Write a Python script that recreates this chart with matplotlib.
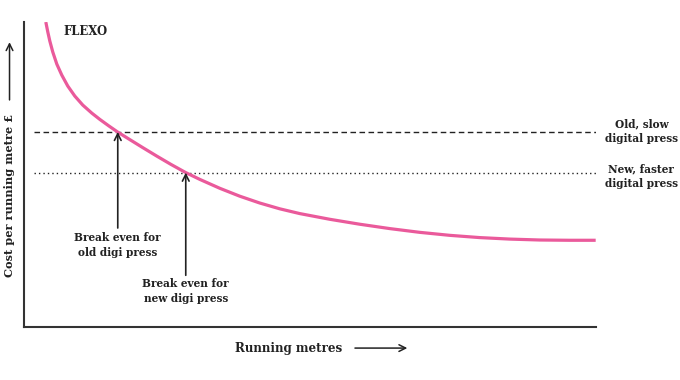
import matplotlib
matplotlib.use('Agg')
import matplotlib.pyplot as plt

# flexo cost curve (arbitrary units 0-100)
run_metres = [3.85, 4.20, 4.55, 5.07, 5.77, 6.64, 7.69, 8.92, 10.31, 11.89, 13.29, 14.86,
              16.43, 18.53, 20.80, 23.25, 25.70, 28.32, 30.77, 34.27, 37.76, 41.26, 44.76,
              48.25, 53.50, 58.74, 63.99, 69.23, 74.48, 79.72, 84.97, 90.21, 95.45, 100.0]
flexo_cost = [100.0, 96.72, 93.77, 90.16, 86.23, 82.62, 79.02, 75.74, 72.79, 70.16, 68.10, 65.97,
              63.93, 61.48, 58.85, 56.07, 53.38, 50.66, 48.44, 45.52, 42.93, 40.69, 38.79,
              37.23, 35.36, 33.74, 32.31, 31.08, 30.10, 29.36, 28.87, 28.57, 28.48, 28.48]

old_digi_cost = 64.0
new_digi_cost = 50.66
break_even_old = 16.43
break_even_new = 28.32

pink = '#ea5a9b'
ink = '#222222'
plt.rcParams['font.family'] = ['DejaVu Serif']
plt.rcParams['font.weight'] = 'bold'

fig = plt.figure(figsize=(6.8, 3.8), dpi=100)
ax = fig.add_axes([0.035, 0.139, 0.841, 0.803])
ax.set_xlim(0, 100)
ax.set_ylim(0, 100)

ax.plot(run_metres, flexo_cost, color=pink, lw=2.3, solid_joinstyle='round',
        solid_capstyle='butt', zorder=3)
ax.plot([1.7, 100], [old_digi_cost] * 2, color=ink, lw=1.0, ls=(0, (4, 2.5)))
ax.plot([1.7, 100], [new_digi_cost] * 2, color=ink, lw=1.0, ls=(0, (1, 2.2)))

arrow = dict(arrowstyle='->', color=ink, lw=1.2, mutation_scale=12, shrinkA=0, shrinkB=0)
ax.annotate('', xy=(break_even_old, old_digi_cost), xytext=(break_even_old, 32.5), arrowprops=arrow)
ax.annotate('', xy=(break_even_new, new_digi_cost), xytext=(break_even_new, 17.0), arrowprops=arrow)

fs = 7.6
ax.text(break_even_old, 26.9, 'Break even for\nold digi press', ha='center', va='center',
        fontsize=fs, color=ink, linespacing=1.4)
ax.text(break_even_new, 11.8, 'Break even for\nnew digi press', ha='center', va='center',
        fontsize=fs, color=ink, linespacing=1.4)
ax.text(7.0, 97, 'FLEXO', ha='left', va='center', fontsize=8.4, color=ink)
ax.text(108.0, 64.1, 'Old, slow\ndigital press', ha='center', va='center',
        fontsize=fs, color=ink, linespacing=1.4, clip_on=False)
ax.text(108.0, 49.5, 'New, faster\ndigital press', ha='center', va='center',
        fontsize=fs, color=ink, linespacing=1.4, clip_on=False)

for side in ['top', 'right']:
    ax.spines[side].set_visible(False)
for side in ['left', 'bottom']:
    ax.spines[side].set_linewidth(1.5)
    ax.spines[side].set_color('#333333')
ax.set_xticks([])
ax.set_yticks([])

# axis titles with their arrows
fig.text(0.424, 0.084, 'Running metres', ha='center', va='center', fontsize=8.6, color=ink)
fig.text(0.014, 0.487, 'Cost per running metre £', ha='center', va='center', rotation=90,
         fontsize=8.2, color=ink)
long_arrow = dict(arrowstyle='->', color=ink, lw=1.1, mutation_scale=12, shrinkA=0, shrinkB=0)
ax.annotate('', xy=(0.599, 0.084), xytext=(0.522, 0.084), xycoords='figure fraction',
            textcoords='figure fraction', arrowprops=long_arrow)
ax.annotate('', xy=(0.014, 0.889), xytext=(0.014, 0.737), xycoords='figure fraction',
            textcoords='figure fraction', arrowprops=long_arrow)

fig.savefig('out.png', dpi=100)
